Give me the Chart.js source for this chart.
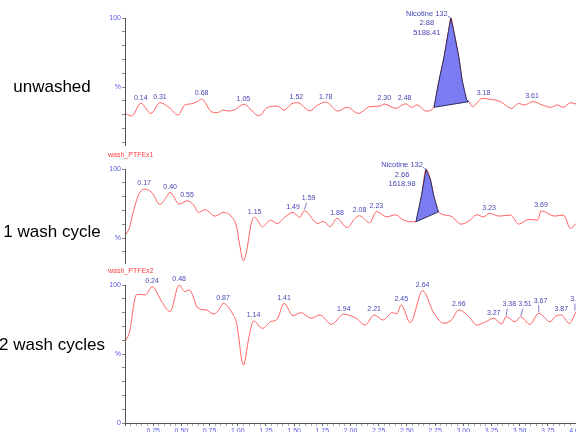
<!DOCTYPE html>
<html>
<head>
<meta charset="utf-8">
<script src="https://cdn.jsdelivr.net/npm/chart.js@4.4.1/dist/chart.umd.min.js"></script>
<style>
  html, body { margin: 0; padding: 0; width: 576px; height: 432px; overflow: hidden; background: #fff; }
  .panel { position: absolute; left: 0; top: 0; width: 600px; height: 460px; }
</style>
</head>
<body>
<div class="panel"><canvas id="c1"></canvas></div>
<div class="panel"><canvas id="c2"></canvas></div>
<div class="panel"><canvas id="c3"></canvas></div>
<script>
// retention time (min) / relative intensity (%)
const rtUnwashed = [0.01,0.06,0.14,0.23,0.31,0.39,0.47,0.53,0.58,0.64, 0.68,0.77,0.82,0.87,0.92,0.98,1.05,1.19,1.26,1.35,
  1.41,1.48,1.53,1.64,1.71,1.78,1.89,1.97,2.07,2.17, 2.26,2.30,2.40,2.46,2.49,2.54,2.59,2.67,2.74,2.78,
  2.83,2.87,2.89,2.92,2.96,2.99,3.03,3.05,3.08,3.17, 3.24,3.33,3.43,3.49,3.54,3.62,3.70,3.78,3.83,3.89, 3.95,4.00];
const intUnwashed = [30.4,29.0,38.2,30.9,38.6,35.3,29.7,37.0,37.7,39.4, 41.3,31.9,31.4,33.3,32.6,33.8,37.5,29.2,35.0,36.2,
  33.3,37.9,38.6,32.8,37.0,39.1,32.6,35.3,30.9,35.7, 36.2,37.7,34.5,37.0,37.9,35.3,37.0,32.6,35.3,52.7,
  72.0,91.0,100,89,72,55,40.6,39.4,35.7,41.8, 41.1,39.4,34.5,38.1,37.0,39.4,37.0,35.3,37.0,35.3, 38.6,37.7];
const peaksUnwashed = ['0.14','0.31','0.68','1.05','1.52','1.78','2.30','2.48','3.18','3.61'];

const rtWash1 = [0.01,0.04,0.07,0.12,0.17,0.24,0.31,0.36,0.40,0.48, 0.55,0.61,0.65,0.71,0.80,0.87,0.95,0.99,1.02,1.05,
  1.08,1.12,1.15,1.22,1.29,1.35,1.42,1.49,1.55,1.59, 1.71,1.76,1.82,1.88,1.97,2.04,2.08,2.17,2.23,2.32,
  2.40,2.47,2.58,2.63,2.67,2.71,2.74,2.77,2.78,2.89, 2.98,3.06,3.12,3.18,3.23,3.32,3.42,3.49,3.58,3.66,
  3.69,3.81,3.89,3.95,4.00];
const intWash1 = [52.9,57.7,67.9,81.2,85.5,82.8,74.4,78.8,83.1,74.6, 77.0,73.9,68.6,70.5,65.9,68.6,65.0,58.2,43.7,33.6,
  41.3,60.6,65.0,58.2,63.0,60.6,65.4,68.6,65.0,69.8, 60.6,62.1,58.2,64.3,57.7,64.3,66.2,61.1,69.3,65.4,
  66.9,63.0,61.8,81,99.8,92,80,71.5,69,65.9, 60.1,63.0,66.9,65.4,67.9,65.9,66.7,60.1,63.5,63.0,
  69.8,65.9,66.7,57.0,60.6];
const peaksWash1 = ['0.17','0.40','0.55','1.15','1.49','1.59','1.88','2.08','2.23','3.23','3.69'];

const rtWash2 = [0.01,0.04,0.10,0.13,0.18,0.24,0.33,0.40,0.48,0.53, 0.57,0.65,0.72,0.79,0.85,0.87,0.96,0.99,1.05,1.10,
  1.14,1.22,1.29,1.35,1.41,1.49,1.56,1.65,1.73,1.83, 1.94,2.05,2.13,2.21,2.29,2.37,2.41,2.45,2.53,2.64,
  2.74,2.83,2.90,2.96,3.05,3.12,3.20,3.27,3.34,3.38, 3.46,3.51,3.59,3.67,3.77,3.82,3.87,3.94,4.00];
const intWash2 = [60,66,92.8,93.2,92.8,98.8,87.4,80.7,100,95.2, 96.4,83.1,81.9,79,84.3,86.7,78.3,72.2,42,62.5,
  74,68.6,73.4,75.2,86.7,77.8,80,75.9,78.3,71.5, 78.8,75.9,71,78.3,74.6,80,79,85.5,72.7,95.9,
  79.5,72.2,75.1,81.9,77,71,73.4,75.9,71.7,77, 73.4,77,71.5,79.5,73.4,77.5,78.3,72.2,80.7];
const peaksWash2 = ['0.24','0.48','0.87','1.14','1.41','1.94','2.21','2.45','2.64','2.96','3.27','3.38','3.51','3.67','3.87','3.99'];

// integrated nicotine (m/z 132) peak: label, rt, area, integration window
const nicotineName = 'Nicotine 132';
const nicotineRt = ['2.88', '2.66'];
const nicotineArea = ['5188.41', '1618.98'];
const nicotineFrom = [2.74, 2.58];
const nicotineTo = [3.05, 2.78];

const xTicks = [];
for (let i = 0; i <= 80; i++) xTicks.push(i * 0.05);

const FONT = '"Liberation Sans", Arial, sans-serif';
const TRACE = '#ff6060';
const LABEL = '#4646b4';
const TICK = '#5c5ce8';

// highest point of a trace close to a time
function peakAt(rt, inten, t) {
  let best = null;
  rt.forEach((v, i) => {
    if (Math.abs(v - t) <= 0.04 && (best === null || inten[i] > best.y)) best = {x: v, y: inten[i]};
  });
  return best || {x: t, y: 50};
}

const annotate = {
  id: 'annotate',
  afterDatasetsDraw(chart, args, o) {
    const {ctx, chartArea} = chart;
    const xs = chart.scales.x, ys = chart.scales.y;
    ctx.save();
    ctx.font = '17px ' + FONT;
    ctx.fillStyle = '#000';
    ctx.textAlign = 'center';
    ctx.textBaseline = 'middle';
    ctx.fillText(o.caption, 52, ys.getPixelForValue(o.captionAt));

    if (o.name) {
      ctx.font = '7px ' + FONT;
      ctx.fillStyle = '#ff4040';
      ctx.textAlign = 'left';
      ctx.fillText(o.name, 108, chartArea.top - 14);
    }

    ctx.font = '7px ' + FONT;
    ctx.fillStyle = LABEL;
    ctx.strokeStyle = LABEL;
    ctx.lineWidth = 0.7;
    ctx.textBaseline = 'bottom';
    ctx.textAlign = 'center';
    let lastRight = -1e9;
    o.peaks.forEach(lbl => {
      const p = peakAt(o.rt, o.inten, parseFloat(lbl));
      const px = xs.getPixelForValue(parseFloat(lbl));
      const py = ys.getPixelForValue(p.y);
      const w = ctx.measureText(lbl).width;
      let lx = px, ly = py - 2;
      if (px - w / 2 < lastRight + 1) {
        lx = Math.max(px, lastRight + w / 2 + 2);
        ly = py - 9;
        ctx.beginPath();
        ctx.moveTo(lx - 2, ly + 1);
        ctx.lineTo(px, py - 1);
        ctx.stroke();
      }
      ctx.fillText(lbl, lx, ly);
      lastRight = lx + w / 2;
    });

    if (o.nic !== undefined) {
      const k = o.nic;
      let apex = {x: 0, y: -1};
      o.rt.forEach((v, i) => {
        if (v >= nicotineFrom[k] && v <= nicotineTo[k] && o.inten[i] > apex.y) apex = {x: v, y: o.inten[i]};
      });
      const ax = xs.getPixelForValue(apex.x), ay = ys.getPixelForValue(apex.y);
      const cx = ax - 24;
      ctx.font = '7.5px ' + FONT;
      ctx.textBaseline = 'middle';
      [nicotineName, nicotineRt[k], nicotineArea[k]].forEach((s, i) => ctx.fillText(s, cx, ay - 4 + i * 9.3));
      const w = ctx.measureText(nicotineName).width;
      ctx.beginPath();
      ctx.moveTo(cx + w / 2, ay - 2);
      ctx.lineTo(ax, ay);
      ctx.stroke();
    }
    ctx.restore();
  }
};

function makePanel(id, cfg) {
  const pts = cfg.rt.map((t, i) => ({x: t, y: cfg.inten[i]}));
  const datasets = [{
    data: pts, borderColor: TRACE, borderWidth: 1, pointRadius: 0,
    cubicInterpolationMode: 'monotone', fill: false, clip: false, order: 1
  }];
  if (cfg.nic !== undefined) {
    const poly = pts.filter(p => p.x >= nicotineFrom[cfg.nic] - 1e-9 && p.x <= nicotineTo[cfg.nic] + 1e-9);
    poly.push(poly[0]);
    datasets.push({
      data: poly, fill: 'shape', backgroundColor: '#7b7bf2', borderColor: '#2c2c58',
      borderWidth: 1, pointRadius: 0, tension: 0, clip: false, order: 0
    });
  }
  new Chart(document.getElementById(id), {
    type: 'line',
    data: {datasets},
    options: {
      responsive: true,
      maintainAspectRatio: false,
      animation: false,
      events: [],
      layout: {padding: {top: cfg.top, bottom: cfg.bottom, left: 0, right: 24}},
      plugins: {
        legend: {display: false},
        tooltip: {enabled: false},
        annotate: {caption: cfg.caption, captionAt: cfg.captionAt, name: cfg.name,
          peaks: cfg.peaks, rt: cfg.rt, inten: cfg.inten, nic: cfg.nic}
      },
      scales: {
        x: {
          type: 'linear', min: 0, max: 4,
          display: cfg.showX,
          afterFit: s => { s.height = cfg.showX ? 20 : 0; },
          afterBuildTicks: s => { s.ticks = xTicks.map(v => ({value: v})); },
          ticks: {
            autoSkip: false, maxRotation: 0, padding: 1, color: TICK,
            font: {size: 7, family: FONT},
            callback: v => {
              const k = Math.round(v * 20);
              return k > 0 && k % 5 === 0 ? (k / 20).toFixed(2) : '';
            }
          },
          grid: {drawOnChartArea: false, tickLength: 3,
            color: c => (Math.round((c.tick ? c.tick.value : 0) * 20) % 5 === 0 ? '#666' : '#aaa')},
          border: {color: '#555', width: 1}
        },
        y: {
          min: cfg.min, max: 100,
          afterFit: s => { s.width = 125; },
          afterBuildTicks: s => {
            s.ticks = [];
            for (let v = 0; v <= 100; v += 10) if (v >= s.min) s.ticks.push({value: v});
          },
          ticks: {
            autoSkip: false, padding: 1, color: TICK,
            font: {size: 7, family: FONT},
            callback: v => (v === 100 ? '100' : v === 50 ? '%' : v === 0 ? '0' : '')
          },
          grid: {drawOnChartArea: false, tickLength: 3, color: '#888'},
          border: {color: '#555', width: 1}
        }
      }
    },
    plugins: [annotate]
  });
}

makePanel('c1', {rt: rtUnwashed, inten: intUnwashed, peaks: peaksUnwashed, nic: 0,
  caption: 'unwashed', captionAt: 50, top: 18, bottom: 315, min: 8, showX: false});
makePanel('c2', {rt: rtWash1, inten: intWash1, peaks: peaksWash1, nic: 1, name: 'wash_PTFEx1',
  caption: '1 wash cycle', captionAt: 54.5, top: 169, bottom: 197, min: 32, showX: false});
makePanel('c3', {rt: rtWash2, inten: intWash2, peaks: peaksWash2, name: 'wash_PTFEx2',
  caption: '2 wash cycles', captionAt: 56.5, top: 285, bottom: 17, min: 0, showX: true});
</script>
</body>
</html>
